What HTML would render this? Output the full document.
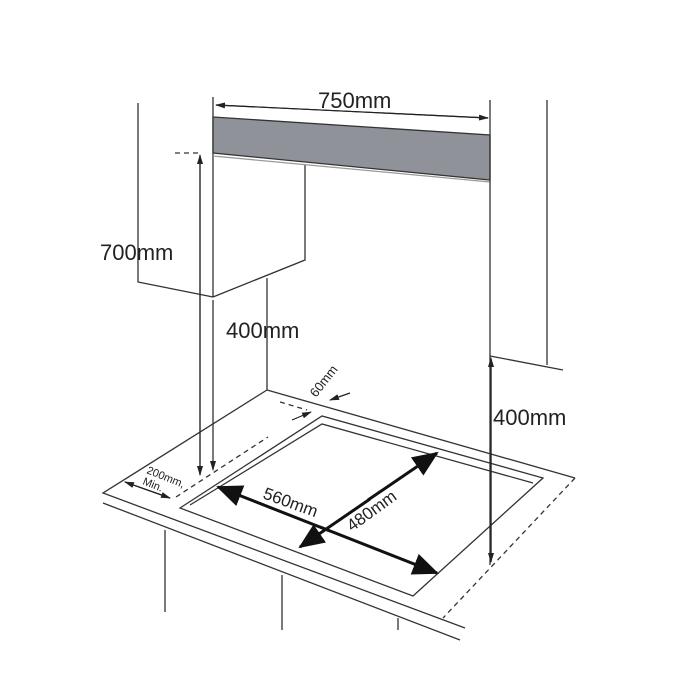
<!DOCTYPE html>
<html><head><style>body{margin:0;background:#fff}svg{display:block}text{font-family:"Liberation Sans",Arial,sans-serif;fill:#222}</style></head>
<body>
<svg width="700" height="700" viewBox="0 0 700 700" xmlns="http://www.w3.org/2000/svg">
<defs>
<marker id="a" markerWidth="10" markerHeight="6" refX="9" refY="3" orient="auto" markerUnits="userSpaceOnUse"><path d="M0,0 L10,3 L0,6 Z" fill="#222"/></marker>
<marker id="b" markerWidth="26" markerHeight="22" refX="24" refY="11" orient="auto" markerUnits="userSpaceOnUse"><path d="M0,0 L26,11 L0,22 Z" fill="#111"/></marker>
</defs>
<g stroke="#333" stroke-width="1.3" fill="none">
<polyline points="138,103 138,282 213,297"/>
<line x1="213" y1="97" x2="213" y2="297"/>
<polyline points="213,297 305,260 305,165"/>
<line x1="267" y1="278" x2="267" y2="390"/>
<polygon points="213,117 490,135 490,180 213,153" fill="#8f9399" stroke="#333"/>
<line x1="213" y1="156" x2="490" y2="182" stroke="#999"/>
<line x1="490" y1="100" x2="490" y2="565"/>
<line x1="547" y1="100" x2="547" y2="365"/>
<line x1="490" y1="356" x2="563" y2="370"/>
<polyline points="267,390 575,478"/>
<polyline points="267,390 103,493 465,628"/>
<polyline points="103,503 460,640"/>
<line x1="575" y1="478" x2="443" y2="618" stroke-dasharray="5,4"/>
<line x1="165" y1="530" x2="165" y2="612"/>
<line x1="282" y1="575" x2="282" y2="630"/>
<line x1="398" y1="618" x2="398" y2="630"/>
<polygon points="180,508 322,416 543,478 413,596"/>
<polyline points="190,505 322,424 533,483"/>
<line x1="176" y1="497" x2="268" y2="437" stroke-dasharray="5,4"/>
<line x1="280" y1="402" x2="307" y2="410" stroke-dasharray="5,4"/>
<line x1="175" y1="153" x2="200" y2="153" stroke-dasharray="5,4"/>
</g>
<g stroke="#222" stroke-width="1.2">
<line x1="216" y1="105" x2="488" y2="118" marker-end="url(#a)"/>
<line x1="488" y1="118" x2="216" y2="105" marker-end="url(#a)"/>
<line x1="200" y1="475" x2="200" y2="155" marker-end="url(#a)"/>
<line x1="200" y1="157" x2="200" y2="475" marker-end="url(#a)"/>
<line x1="213" y1="300" x2="213" y2="470" marker-end="url(#a)"/>
<line x1="491" y1="562" x2="491" y2="358" marker-end="url(#a)"/>
<line x1="491" y1="360" x2="491" y2="562" marker-end="url(#a)"/>
<line x1="125" y1="482" x2="170" y2="498" marker-end="url(#a)"/>
<line x1="170" y1="498" x2="125" y2="482" marker-end="url(#a)"/>
<line x1="292" y1="420" x2="311" y2="412" marker-end="url(#a)"/>
<line x1="350" y1="393" x2="330" y2="400" marker-end="url(#a)"/>
</g>
<g stroke="#111" stroke-width="3">
<line x1="320" y1="527" x2="437" y2="573" marker-end="url(#b)"/>
<line x1="330" y1="531" x2="218" y2="487" marker-end="url(#b)"/>
<line x1="368" y1="500" x2="437" y2="453" marker-end="url(#b)"/>
<line x1="370" y1="499" x2="300" y2="547" marker-end="url(#b)"/>
</g>
<text x="318" y="108" font-size="22">750mm</text>
<text x="100" y="260" font-size="22">700mm</text>
<text x="226" y="338" font-size="22">400mm</text>
<text x="493" y="425" font-size="22">400mm</text>
<text x="262" y="498" font-size="17" transform="rotate(20 262 498)">560mm</text>
<text x="352" y="532" font-size="17" transform="rotate(-36 352 532)">480mm</text>
<text x="316" y="398" font-size="13" transform="rotate(-52 316 398)">60mm</text>
<text x="146" y="473" font-size="11" transform="rotate(22 146 473)">200mm,</text>
<text x="142" y="484" font-size="11" transform="rotate(22 142 484)">Min.</text>
</svg>
</body></html>
